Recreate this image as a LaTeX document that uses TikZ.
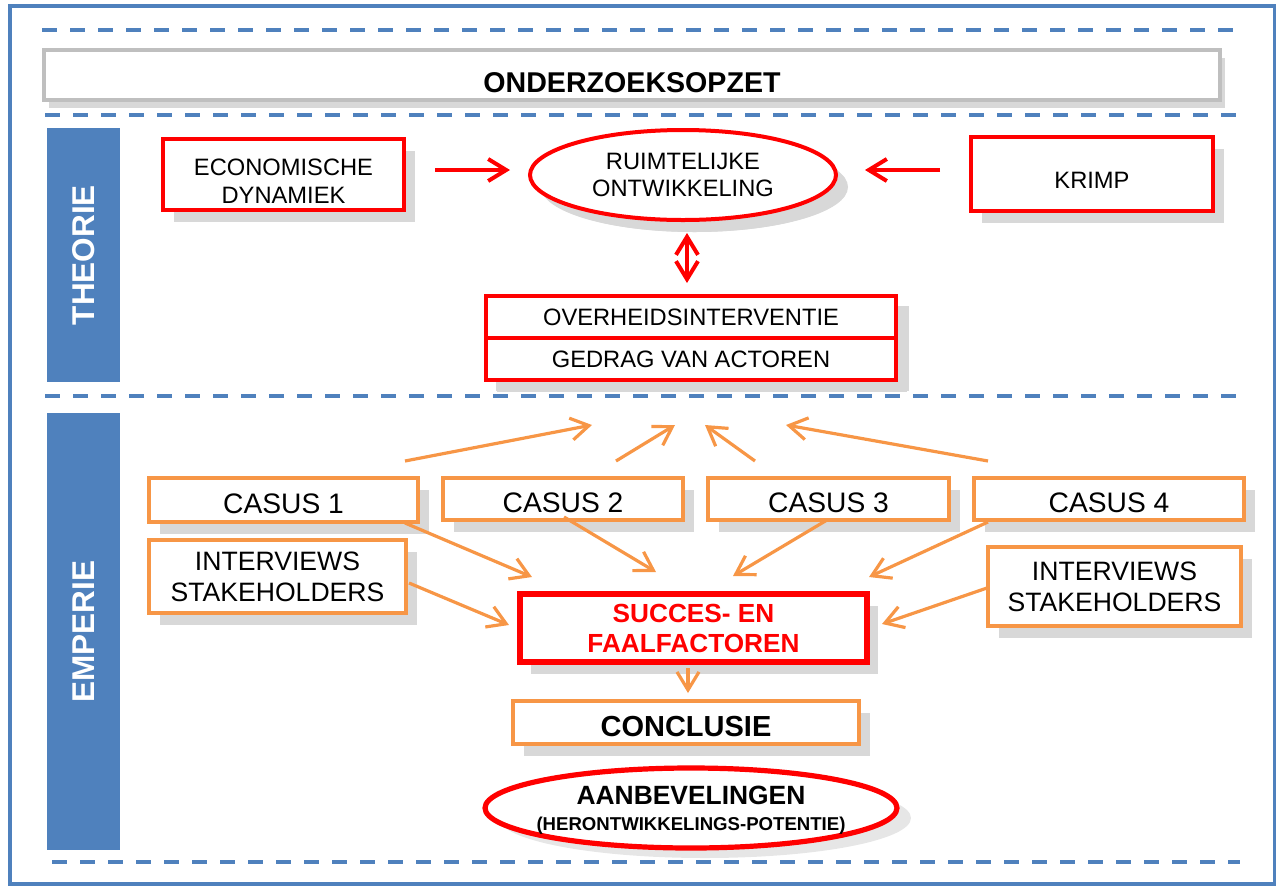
\documentclass[tikz,border=0pt]{standalone}
\usepackage{fontspec}
\setmainfont{Liberation Sans}
\usetikzlibrary{shapes.geometric,arrows.meta,shadows}

\definecolor{frameblue}{HTML}{4F81BD}
\definecolor{boxorange}{HTML}{F79646}
\definecolor{shadowgray}{HTML}{D8D8D8}
\definecolor{lightshadow}{HTML}{E6E6E6}
\definecolor{titlegray}{HTML}{BFBFBF}

\begin{document}
\begin{tikzpicture}[x=0.5pt,y=-0.5pt,
  shadowed/.style={general shadow={fill=shadowgray, shadow xshift=5.5pt, shadow yshift=-6pt}},
  body/.style={font=\fontsize{11.85}{13.8}\selectfont, align=center, inner sep=0pt},
  redbox/.style={body, draw=red, line width=2pt, fill=white, shadowed},
  orangebox/.style={draw=boxorange, line width=1.6pt, fill=white, shadowed, align=center, inner sep=0pt},
  casusbox/.style={orangebox, font=\fontsize{14.1}{16}\selectfont, text height=13.1pt, text depth=0pt},
  sidebar/.style={fill=frameblue, inner sep=0pt},
  sidetext/.style={text=white, rotate=90, font=\fontsize{15.75}{18}\selectfont\bfseries},
  divider/.style={draw=frameblue, line width=2pt, dash pattern=on 7.5pt off 6.5pt},
  redarrow/.style={draw=red, line width=2pt, -{Straight Barb[length=9pt,width=11pt]}},
  orangearrow/.style={draw=boxorange, line width=1.6pt, -{Straight Barb[length=9pt,width=11pt]}}
]
\useasboundingbox (0,0) rectangle (1276,885);

% outer frame and section dividers
\draw[frameblue, line width=1.8pt] (10,6) rectangle (1275,884);
\draw[divider] (42,30) -- (1236,30);
\draw[divider] (45,115) -- (1238,115);
\draw[divider] (45,396) -- (1238,396);
\draw[divider] (52,862) -- (1240,862);

% heading
\node[draw=titlegray, line width=1.6pt, fill=white, inner sep=0pt,
      general shadow={fill=shadowgray, shadow xshift=2.5pt, shadow yshift=-4pt},
      minimum width=588pt, minimum height=25pt, text height=17pt, text depth=0pt,
      font=\fontsize{14.3}{16}\selectfont\bfseries] (title) at (632,75) {ONDERZOEKSOPZET};

% side bars
\node[sidebar, minimum width=36.5pt, minimum height=127pt] (theorie) at (83.5,255) {};
\node[sidetext] at (theorie.center) {THEORIE};
\node[sidebar, minimum width=36.5pt, minimum height=218.5pt] (emperie) at (83.5,631.5) {};
\node[sidetext] at (emperie.center) {EMPERIE};

% theory part
\node[redbox, minimum width=120.5pt, minimum height=35.5pt, text height=28.5pt] (eco) at (283.5,174.5) {ECONOMISCHE\\DYNAMIEK};
\node[redbox, minimum width=121pt, minimum height=37pt, text height=14.5pt, text depth=0pt] (krimp) at (1092,174) {KRIMP};
\node[redbox, ellipse, general shadow={fill=shadowgray, shadow xshift=6pt, shadow yshift=-6pt},
      minimum width=153pt, minimum height=45pt] (ruimte) at (683,175) {RUIMTELIJKE\\ONTWIKKELING};
\fill[shadowgray] (496,306) rectangle (909,391);
\node[redbox, general shadow={}, minimum width=205pt, minimum height=21pt] (overheid) at (691,317) {OVERHEIDSINTERVENTIE};
\node[redbox, general shadow={}, minimum width=205pt, minimum height=21pt] (gedrag) at (691,359) {GEDRAG VAN ACTOREN};

\coordinate (ecoEnd1) at (435,170);
\coordinate (ecoEnd2) at (510,170);
\coordinate (krimpEnd1) at (940,170);
\coordinate (krimpEnd2) at (865,170);
\coordinate (ruimteLow) at (687,233);
\coordinate (overheidTop) at (687,283);
\draw[redarrow] (ecoEnd1) -- (ecoEnd2);
\draw[redarrow] (krimpEnd1) -- (krimpEnd2);
\draw[redarrow, {Straight Barb[length=9pt,width=11pt]}-{Straight Barb[length=9pt,width=11pt]}] (ruimteLow) -- (overheidTop);

% empirical part
\node[casusbox, minimum width=134.5pt, minimum height=22pt] (casus1) at (283.5,500) {CASUS 1};
\node[casusbox, minimum width=120pt, minimum height=21pt] (casus2) at (563,499) {CASUS 2};
\node[casusbox, minimum width=120.5pt, minimum height=21pt] (casus3) at (828.5,499) {CASUS 3};
\node[casusbox, minimum width=135pt, minimum height=21pt] (casus4) at (1109,499) {CASUS 4};
\node[orangebox, font=\fontsize{13.3}{15.5}\selectfont, minimum width=128.5pt, minimum height=36.5pt] (int1) at (277.5,576.5) {INTERVIEWS\\STAKEHOLDERS};
\node[orangebox, font=\fontsize{13.3}{15.5}\selectfont, minimum width=126.5pt, minimum height=39.5pt] (int2) at (1114.5,586.5) {INTERVIEWS\\STAKEHOLDERS};
\node[draw=red, line width=2.6pt, fill=white, shadowed, align=center, inner sep=0pt, text=red,
      font=\fontsize{13.1}{15}\selectfont\bfseries,
      minimum width=173.5pt, minimum height=34pt] (succes) at (693.5,628) {SUCCES- EN\\FAALFACTOREN};
\node[orangebox, font=\fontsize{14.5}{16}\selectfont\bfseries, text height=14.4pt, text depth=0pt,
      minimum width=173pt, minimum height=21.5pt] (concl) at (686,722.5) {CONCLUSIE};
\node[ellipse, draw=red, line width=2.6pt, fill=white,
      general shadow={fill=lightshadow, shadow xshift=7pt, shadow yshift=-5pt},
      minimum width=206pt, minimum height=40pt, inner sep=0pt,
      label={[align=center, font=\bfseries, yshift=-1pt]center:{\fontsize{13.2}{14}\selectfont AANBEVELINGEN\\[1pt]\fontsize{9.3}{11}\selectfont (HERONTWIKKELINGS-POTENTIE)}}] (aanb) at (691,808) {};

% arrows towards the theory
\coordinate (up1s) at (405,461); \coordinate (up1e) at (592,425);
\coordinate (up2s) at (616,461); \coordinate (up2e) at (675,425);
\coordinate (up3s) at (755,461); \coordinate (up3e) at (705,425);
\coordinate (up4s) at (988,461); \coordinate (up4e) at (786,425);
\draw[orangearrow] (up1s) -- (up1e);
\draw[orangearrow] (up2s) -- (up2e);
\draw[orangearrow] (up3s) -- (up3e);
\draw[orangearrow] (up4s) -- (up4e);

% arrows into the success and failure factors
\coordinate (c1s) at (405,523); \coordinate (c1e) at (532,577);
\coordinate (c2s) at (564,517); \coordinate (c2e) at (656,572);
\coordinate (c3s) at (827,520); \coordinate (c3e) at (733,576);
\coordinate (c4s) at (988,522); \coordinate (c4e) at (869,577);
\coordinate (i1s) at (409,583); \coordinate (i1e) at (509,625);
\coordinate (i2s) at (987,588); \coordinate (i2e) at (882,624);
\draw[orangearrow] (c1s) -- (c1e);
\draw[orangearrow] (c2s) -- (c2e);
\draw[orangearrow] (c3s) -- (c3e);
\draw[orangearrow] (c4s) -- (c4e);
\draw[orangearrow] (i1s) -- (i1e);
\draw[orangearrow] (i2s) -- (i2e);

\coordinate (sucLow) at (688,668);
\coordinate (conTop) at (688,693);
\draw[orangearrow] (sucLow) -- (conTop);
\end{tikzpicture}
\end{document}
